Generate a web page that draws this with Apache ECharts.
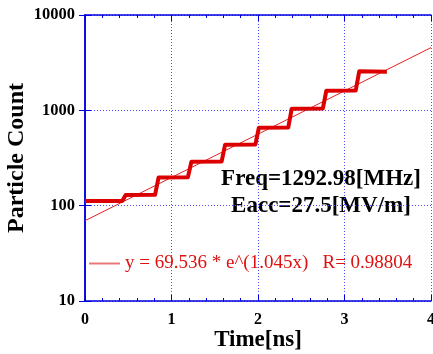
<!DOCTYPE html>
<html>
<head>
<meta charset="utf-8">
<script src="https://cdn.jsdelivr.net/npm/echarts@6/dist/echarts.min.js"></script>
<style>
  html, body { margin: 0; padding: 0; background: #fff; }
  #chart { width: 433px; height: 354px; }
</style>
</head>
<body>
<div id="chart"></div>
<script>
// staircase of the measured particle count
const stepTime = [0, 0.43, 0.47, 0.81, 0.85, 1.19, 1.23, 1.58, 1.62, 1.97, 2.01, 2.35, 2.39, 2.75, 2.79, 3.13, 3.17, 3.49];
const stepCount = [112, 112, 129, 130, 197, 199, 289, 291, 436, 439, 657, 662, 1040, 1046, 1605, 1615, 2565, 2545];
// exponential fit, end points
const fitTime = [0, 4];
const fitCount = [69.5, 4550];
const fitName = "y = 69.536 * e^(1.045x)   R= 0.98804";

const blue = "#0000e0";
const dotBlue = "#4a4aff";
const serif = "Liberation Serif";

const option = {
  backgroundColor: "#fff",
  animation: false,
  grid: { left: 85, right: 2, top: 15, bottom: 53, outerBoundsMode: "none", containLabel: false },
  legend: {
    data: [{ name: fitName, icon: "rect" }],
    left: 84,
    top: 249,
    itemWidth: 31,
    itemHeight: 2,
    itemStyle: { color: "#e87878" },
    textStyle: { color: "#e01010", fontFamily: serif, fontSize: 19 },
  },
  graphic: [
    {
      type: "text",
      x: 321,
      y: 179,
      style: {
        text: "Freq=1292.98[MHz]",
        font: "bold 23px 'Liberation Serif'",
        fill: "#000",
        align: "center",
        verticalAlign: "middle",
      },
    },
    {
      type: "text",
      x: 321,
      y: 206,
      style: {
        text: "Eacc=27.5[MV/m]",
        font: "bold 23px 'Liberation Serif'",
        fill: "#000",
        align: "center",
        verticalAlign: "middle",
      },
    },
  ],
  xAxis: [
    {
      type: "value",
      min: 0,
      max: 4,
      interval: 1,
      name: "Time[ns]",
      nameLocation: "middle",
      nameGap: 28,
      nameMoveOverlap: false,
      nameTextStyle: { fontFamily: serif, fontWeight: "bold", fontSize: 23, color: "#000" },
      axisLine: { lineStyle: { color: blue, width: 1.5 } },
      axisTick: { inside: true, length: 6, lineStyle: { color: blue } },
      minorTick: { show: true, splitNumber: 5, length: 3, lineStyle: { color: blue } },
      axisLabel: { fontFamily: serif, fontWeight: "bold", fontSize: 16, color: "#000", margin: 11 },
      splitLine: { show: true, lineStyle: { color: dotBlue, type: [1, 2], width: 1 } },
    },
    {
      type: "value",
      position: "top",
      min: 0,
      max: 4,
      interval: 1,
      axisLine: { lineStyle: { color: blue, width: 1.5 } },
      axisTick: { inside: true, length: 6, lineStyle: { color: blue } },
      minorTick: { show: true, splitNumber: 5, length: 3, lineStyle: { color: blue } },
      axisLabel: { show: false },
      splitLine: { show: false },
    },
  ],
  yAxis: [
    {
      type: "log",
      logBase: 10,
      min: 10,
      max: 10000,
      name: "Particle Count",
      nameLocation: "middle",
      nameGap: 56,
      nameMoveOverlap: false,
      nameTextStyle: { fontFamily: serif, fontWeight: "bold", fontSize: 24, color: "#000" },
      axisLine: { show: true, lineStyle: { color: blue, width: 1.5 } },
      axisTick: { inside: true, length: 6, lineStyle: { color: blue } },
      axisLabel: {
        fontFamily: serif,
        fontWeight: "bold",
        fontSize: 16.5,
        color: "#000",
        margin: 10,
        formatter: (v) => String(Math.round(v)),
      },
      splitLine: { show: true, lineStyle: { color: dotBlue, type: [1, 2], width: 1 } },
    },
    {
      type: "log",
      logBase: 10,
      min: 10,
      max: 10000,
      position: "right",
      axisLine: { show: true, lineStyle: { color: blue, width: 1.5 } },
      axisTick: { inside: true, length: 6, lineStyle: { color: blue } },
      axisLabel: { show: false },
      splitLine: { show: false },
    },
  ],
  series: [
    {
      name: fitName,
      type: "line",
      data: fitTime.map((t, i) => [t, fitCount[i]]),
      symbol: "none",
      lineStyle: { color: "#e82020", width: 1 },
      itemStyle: { color: "#e82020" },
      z: 2,
    },
    {
      name: "count",
      type: "line",
      data: stepTime.map((t, i) => [t, stepCount[i]]),
      symbol: "none",
      lineStyle: { color: "#dd0000", width: 4, join: "round" },
      itemStyle: { color: "#dd0000" },
      z: 3,
    },
  ],
};

echarts.init(document.getElementById("chart")).setOption(option);
</script>
</body>
</html>
